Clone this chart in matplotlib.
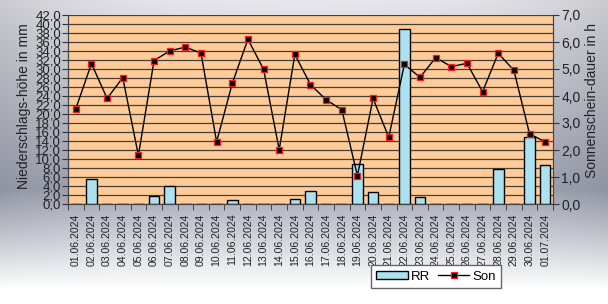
import numpy as np
import matplotlib
matplotlib.use('Agg')
import matplotlib.pyplot as plt
from matplotlib.ticker import FixedLocator, FuncFormatter

plt.rcParams['font.family'] = ['Liberation Sans', 'DejaVu Sans']

dates = ['01.06.2024', '02.06.2024', '03.06.2024', '04.06.2024', '05.06.2024',
         '06.06.2024', '07.06.2024', '08.06.2024', '09.06.2024', '10.06.2024',
         '11.06.2024', '12.06.2024', '13.06.2024', '14.06.2024', '15.06.2024',
         '16.06.2024', '17.06.2024', '18.06.2024', '19.06.2024', '20.06.2024',
         '21.06.2024', '22.06.2024', '23.06.2024', '24.06.2024', '25.06.2024',
         '26.06.2024', '27.06.2024', '28.06.2024', '29.06.2024', '30.06.2024',
         '01.07.2024']

# Niederschlag (mm)
rr = [0.1, 5.5, 0.0, 0.0, 0.0, 1.8, 4.1, 0.0, 0.0, 0.0,
      1.0, 0.0, 0.0, 0.0, 1.1, 2.9, 0.0, 0.0, 9.0, 2.7,
      0.0, 38.8, 1.5, 0.1, 0.0, 0.0, 0.0, 7.8, 0.0, 15.0,
      8.6]

# Sonnenscheindauer (h)
son = [3.53, 5.20, 3.91, 4.68, 1.80, 5.31, 5.67, 5.81, 5.59, 2.30,
       4.47, 6.10, 4.99, 2.01, 5.54, 4.42, 3.86, 3.49, 1.05, 3.91,
       2.47, 5.17, 4.69, 5.42, 5.09, 5.21, 4.16, 5.58, 4.95, 2.60,
       2.30]

fig = plt.figure(figsize=(6.08, 3.04), dpi=100)

# background gradient
bg = fig.add_axes([0, 0, 1, 1], zorder=-10)
yy = np.linspace(0, 1, 304)[:, None]
xx = np.linspace(0, 1, 608)[None, :]
top = np.array([0.90, 0.90, 0.92])
mid = np.array([0.64, 0.66, 0.72])
bot = np.array([1.0, 1.0, 1.0])
t1 = np.clip(yy / 0.62, 0, 1)[..., None]
t2 = np.clip((yy - 0.62) / 0.33, 0, 1)[..., None]
col = np.where(yy[..., None] < 0.62, top + (mid - top) * t1, mid + (bot - mid) * t2)
edge = (np.abs(xx - 0.5) * 2) ** 3
col = col * (1 - 0.12 * edge[..., None] * (1 - t2))
bg.imshow(np.clip(col, 0, 1), aspect='auto', extent=[0, 1, 0, 1])
bg.axis('off')

ax1 = fig.add_axes([68 / 608, 100 / 304, 485 / 608, 189 / 304])
ax1.set_facecolor('#ffcc99')
x = np.arange(len(dates))
ax1.bar(x, rr, width=0.68, color='#ace2f0', edgecolor='black', linewidth=1.0,
        zorder=3, label='RR')
ax1.set_xlim(-0.5, len(dates) - 0.5)
ax1.set_ylim(0, 42)
ax1.yaxis.set_major_locator(FixedLocator(np.arange(0, 42.1, 2)))
fmt = FuncFormatter(lambda v, p: f'{v:.1f}'.replace('.', ','))
ax1.yaxis.set_major_formatter(fmt)
ax1.grid(axis='y', color='#474038', linewidth=0.9, zorder=1)
ax1.set_axisbelow(True)
ax1.set_xticks(x)
ax1.set_xticklabels(dates, rotation=90, fontsize=7.6, color='#222222')
ax1.tick_params(axis='x', length=0, pad=7)
ax1.set_xticks(np.arange(-0.5, len(dates), 1), minor=True)
ax1.tick_params(axis='x', which='minor', length=4, color='#333333', direction='out')
ax1.tick_params(axis='y', labelsize=9.5, length=4, color='#333333', pad=1,
                labelcolor='#222222')
ax1.set_ylabel('Niederschlags-höhe in mm', fontsize=10, color='#222222')
ax1.yaxis.set_label_coords(-0.076, 0.52)
ax1.spines['top'].set_visible(False)
for s in ['left', 'right', 'bottom']:
    ax1.spines[s].set_color('#444444')

ax2 = ax1.twinx()
ax2.plot(x, son, color='black', linewidth=1.0, marker='s', markersize=4.6,
         markerfacecolor='black', markeredgecolor='#ff1a1a', markeredgewidth=0.9,
         zorder=5, label='Son')
ax2.set_ylim(0, 7)
ax2.yaxis.set_major_locator(FixedLocator(np.arange(0, 7.1, 1)))
ax2.yaxis.set_major_formatter(fmt)
ax2.tick_params(axis='y', labelsize=10, length=4, color='#333333', pad=2,
                labelcolor='#222222')
ax2.set_ylabel('Sonnenschein-dauer in h', fontsize=10, color='#222222')
ax2.yaxis.set_label_coords(1.066, 0.55)
ax2.spines['top'].set_visible(False)
for s in ['left', 'right', 'bottom']:
    ax2.spines[s].set_color('#444444')

h1, l1 = ax1.get_legend_handles_labels()
h2, l2 = ax2.get_legend_handles_labels()
leg = fig.legend(h1 + h2, l1 + l2, loc='center', bbox_to_anchor=(0.717, 0.09),
                 ncol=2, fontsize=9.5, frameon=True, fancybox=False,
                 edgecolor='#666666', facecolor='white', framealpha=1,
                 handlelength=2.4, handleheight=0.5, columnspacing=0.6,
                 handletextpad=0.2, borderpad=0.4)
leg.get_frame().set_linewidth(1.0)

fig.savefig('out.png', dpi=100)
